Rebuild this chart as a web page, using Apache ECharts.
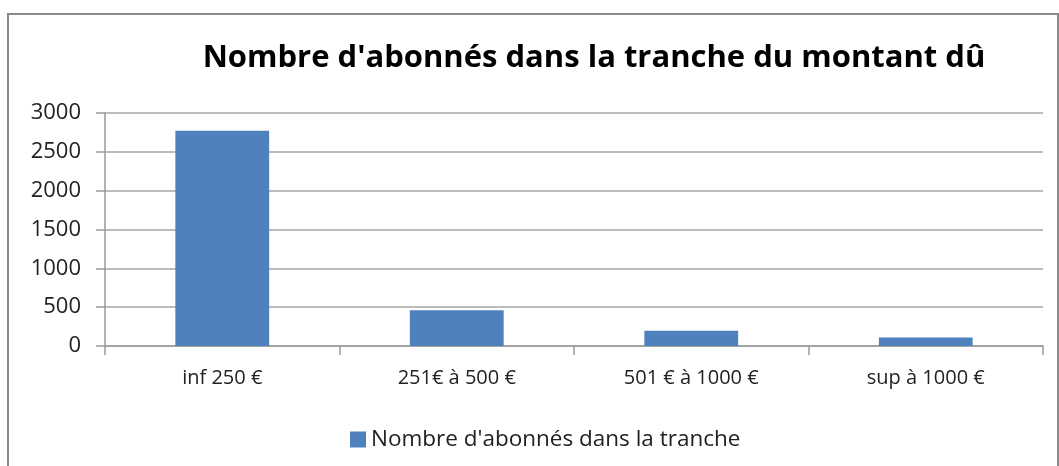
<!DOCTYPE html>
<html>
<head>
<meta charset="UTF-8">
<title>Nombre d'abonnés</title>
<script type="text/javascript" src="https://cdn.jsdelivr.net/npm/echarts@6/dist/echarts.min.js"></script>
<style>
	html, body { margin:0; padding:0; background:#fff; }
</style>
</head>
<body>
	<div id="box" style="width:1059px;height:466px;"></div>
	<script type="text/javascript">
		var categories = ['inf 250 €', '251€ à 500 €', '501 € à 1000 €', 'sup à 1000 €'];
		var abonnes = [2770, 460, 195, 110];
		var yTicks = [0, 500, 1000, 1500, 2000, 2500, 3000];
		var seriesName = "Nombre d'abonnés dans la tranche";

		var mychart = echarts.init(document.getElementById('box'));
		var font = '"Open Sans", "Noto Sans", sans-serif';
		var option = {
			animation:false,
			textStyle:{ fontFamily:font },
			graphic:[{
				type:'rect',
				shape:{ x:8, y:14, width:1050, height:470 },
				style:{ fill:'none', stroke:'#8a8a8a', lineWidth:2 }
			}],
			title:{
				text:"Nombre d'abonnés dans la tranche du montant dû",
				left:589,
				textAlign:'center',
				top:38,
				textStyle:{ fontFamily:font, fontSize:31, fontWeight:'bold', color:'#000' }
			},
			legend:{
				data:[seriesName],
				top:423,
				left:345,
				itemWidth:16,
				itemHeight:16,
				itemGap:5,
				icon:'rect',
				textStyle:{ fontFamily:font, fontSize:22.5, color:'#222' }
			},
			grid:{ left:105, right:16, top:113, bottom:120 },
			xAxis:{
				type:'category',
				data:categories,
				axisLine:{ lineStyle:{ color:'#9a9a9a', width:1.5 } },
				axisTick:{ show:true, alignWithLabel:false, length:9, lineStyle:{ color:'#9a9a9a', width:1.5 } },
				axisLabel:{ fontFamily:font, fontSize:20, color:'#222', margin:22 }
			},
			yAxis:{
				type:'value',
				min:yTicks[0],
				max:yTicks[yTicks.length - 1],
				interval:500,
				axisLine:{ show:true, lineStyle:{ color:'#9a9a9a', width:1.5 } },
				axisTick:{ show:true, length:9, lineStyle:{ color:'#9a9a9a', width:1.5 } },
				axisLabel:{ fontFamily:font, fontSize:22, color:'#222', margin:24, formatter:function (v) { return String(v); } },
				splitLine:{ lineStyle:{ color:'#a6a6a6', width:1.5 } }
			},
			series:[{
				name:seriesName,
				type:'bar',
				data:abonnes,
				barCategoryGap:'60%',
				itemStyle:{ color:'#4f81bd' }
			}]
		};
		mychart.setOption(option);
	</script>
</body>
</html>
